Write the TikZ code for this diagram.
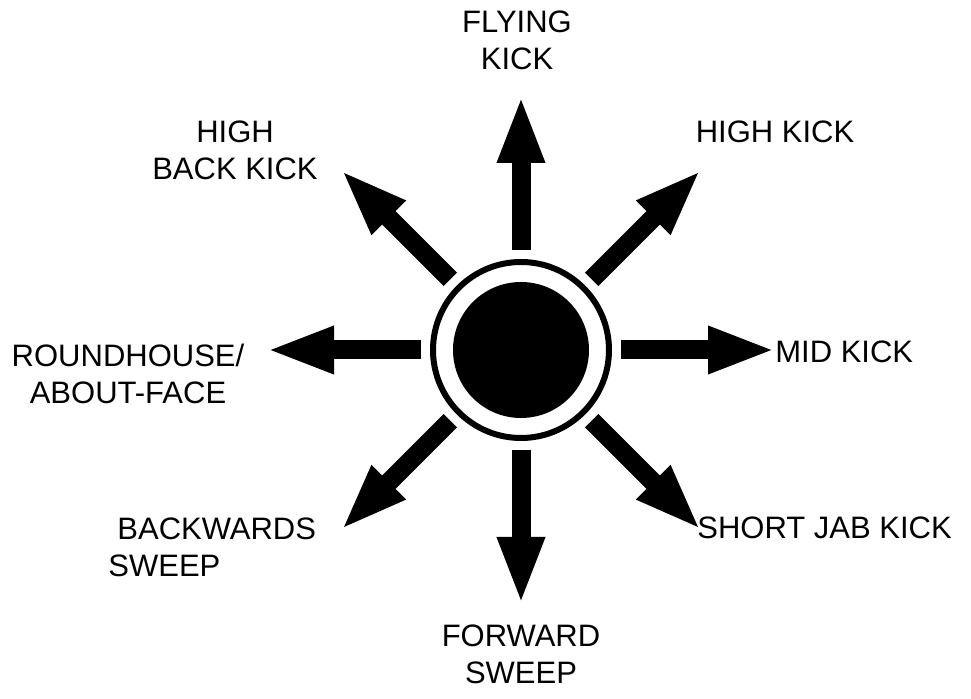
\documentclass[tikz,border=0pt]{standalone}
\usepackage{fontspec}
\setmainfont{Liberation Sans}
\usetikzlibrary{arrows.meta,calc}

\begin{document}
\begin{tikzpicture}[x=0.5pt, y=-0.5pt,
  font=\fontsize{15.5}{18.5}\selectfont,
  hub/.style={circle, draw, line width=3pt, minimum size=88pt, inner sep=0pt},
  core/.style={circle, fill, minimum size=68pt, inner sep=0pt},
  kick/.style={line width=9.5pt, -{Triangle[width=21.5pt, length=34pt]}, shorten <=4.5pt},
  lbl/.style={inner sep=0pt, align=center},
]
\useasboundingbox (0,0) rectangle (971,699);
\node[hub] (hub) at (521,350) {};
\node[core] (core) at (hub) {};
\foreach \ang [count=\i] in {0,45,...,315}
  \coordinate (tip\i) at ($(hub)+(\ang:127.5pt)$);
\foreach \i in {1,...,8}
  \draw[kick] (hub) -- (tip\i);
\node[lbl] (fly) at (517,40) {FLYING\\KICK};
\node[lbl] (hback) at (235,150) {HIGH\\BACK KICK};
\node[lbl] (hkick) at (775,132) {HIGH KICK};
\node[lbl] (round) at (128,374) {ROUNDHOUSE/\\ABOUT-FACE};
\node[lbl, anchor=west] (mid) at (775,352) {MID KICK};
\node[lbl, align=left, anchor=north west] (bsweep) at (108,517) {\hspace*{4.5pt}BACKWARDS\\SWEEP};
\node[lbl, anchor=west] (jab) at (697,528) {SHORT JAB KICK};
\node[lbl] (fsweep) at (521,654) {FORWARD\\SWEEP};
\end{tikzpicture}
\end{document}
